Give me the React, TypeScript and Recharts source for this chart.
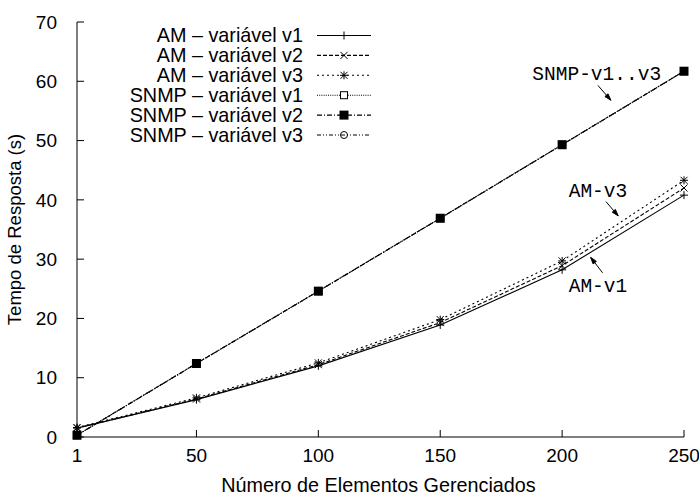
import React from "react";
import {
  LineChart,
  Line,
  XAxis,
  YAxis,
  Legend,
  Label,
  ReferenceLine,
  ReferenceDot,
} from "recharts";

// x: number of managed elements
const elements = [1, 50, 100, 150, 200, 250];
// response time (s)
const amV1 = [1.5, 6.3, 12.0, 18.9, 28.2, 40.8];
const amV2 = [1.5, 6.4, 12.2, 19.3, 28.9, 42.0];
const amV3 = [1.6, 6.6, 12.5, 19.8, 29.7, 43.3];
const snmpV1 = [0.3, 12.4, 24.6, 36.9, 49.3, 61.7];
const snmpV2 = [0.3, 12.4, 24.6, 36.9, 49.3, 61.7];
const snmpV3 = [0.3, 12.4, 24.6, 36.9, 49.3, 61.7];

const xTicks = [1, 50, 100, 150, 200, 250];
const yTicks = [0, 10, 20, 30, 40, 50, 60, 70];

// annotation text anchors and arrows, in data units
const notes = [
  { text: "SNMP-v1..v3", x: 214.2, y: 61.3 },
  { text: "AM-v3", x: 214.7, y: 41.6 },
  { text: "AM-v1", x: 214.7, y: 25.6 },
];
const arrows = [
  { from: [214.7, 59.3], to: [220, 56.8] },
  { from: [218, 39.7], to: [223, 37.3] },
  { from: [216.6, 27.7], to: [211.7, 30.3] },
];

type Mark = "plus" | "cross" | "star" | "box" | "boxFill" | "circle";

const series: { key: string; name: string; values: number[]; dash?: string; mark: Mark }[] = [
  { key: "amV1", name: "AM – variável v1", values: amV1, mark: "plus" },
  { key: "amV2", name: "AM – variável v2", values: amV2, dash: "4 2", mark: "cross" },
  { key: "amV3", name: "AM – variável v3", values: amV3, dash: "2 3", mark: "star" },
  { key: "snmpV1", name: "SNMP – variável v1", values: snmpV1, dash: "1 1.2", mark: "box" },
  { key: "snmpV2", name: "SNMP – variável v2", values: snmpV2, dash: "5 2 1 2", mark: "boxFill" },
  { key: "snmpV3", name: "SNMP – variável v3", values: snmpV3, dash: "4 2 1 2 1 2", mark: "circle" },
];

const data = elements.map((n, i) => {
  const row: Record<string, number> = { n };
  series.forEach((s) => (row[s.key] = s.values[i]));
  return row;
});

const SANS = "'Liberation Sans', Arial, Helvetica, sans-serif";
const MONO = "'Liberation Mono', 'Courier New', monospace";
const FS = 19;
const FS_WIDE = 19.8;
const TICK = 7;

function Marker({ cx, cy, kind }: { cx: number; cy: number; kind: Mark }) {
  const s = 3.5;
  switch (kind) {
    case "plus":
      return (
        <g stroke="#000" strokeWidth={1}>
          <line x1={cx - 4} x2={cx + 4} y1={cy} y2={cy} />
          <line x1={cx} x2={cx} y1={cy - 4} y2={cy + 4} />
        </g>
      );
    case "cross":
      return (
        <g stroke="#000" strokeWidth={1}>
          <line x1={cx - s} x2={cx + s} y1={cy - s} y2={cy + s} />
          <line x1={cx - s} x2={cx + s} y1={cy + s} y2={cy - s} />
        </g>
      );
    case "star":
      return (
        <g stroke="#000" strokeWidth={1}>
          <line x1={cx - s} x2={cx + s} y1={cy - s} y2={cy + s} />
          <line x1={cx - s} x2={cx + s} y1={cy + s} y2={cy - s} />
          <line x1={cx - 4} x2={cx + 4} y1={cy} y2={cy} />
          <line x1={cx} x2={cx} y1={cy - 4} y2={cy + 4} />
        </g>
      );
    case "box":
      return <rect x={cx - s} y={cy - s} width={2 * s} height={2 * s} fill="#fff" stroke="#000" strokeWidth={1} />;
    case "boxFill":
      return <rect x={cx - 4.5} y={cy - 4.5} width={9} height={9} fill="#000" />;
    case "circle":
      return <circle cx={cx} cy={cy} r={s} fill="none" stroke="#000" strokeWidth={1} />;
  }
  return null;
}

const BottomTick = (p: any) => (
  <g>
    <line x1={p.x} x2={p.x} y1={p.y} y2={p.y - TICK} stroke="#000" />
    <text x={p.x} y={p.y + 25} textAnchor="middle" fontFamily={SANS} fontSize={FS} fill="#000">
      {p.payload.value}
    </text>
  </g>
);
const TopTick = (p: any) => <line x1={p.x} x2={p.x} y1={p.y} y2={p.y + TICK} stroke="#000" />;
const LeftTick = (p: any) => (
  <g>
    <line x1={p.x} x2={p.x + TICK} y1={p.y} y2={p.y} stroke="#000" />
    <text x={p.x - 20} y={p.y} dy="0.35em" textAnchor="end" fontFamily={SANS} fontSize={FS} fill="#000">
      {p.payload.value}
    </text>
  </g>
);
const RightTick = (p: any) => <line x1={p.x - TICK} x2={p.x} y1={p.y} y2={p.y} stroke="#000" />;

const LegendBox = () => (
  <svg width={400} height={150}>
    {series.map((s, i) => {
      const y = 35.5 + i * 19.9;
      return (
        <g key={s.key}>
          <text x={303} y={y} dy="0.35em" textAnchor="end" fontFamily={SANS} fontSize={FS_WIDE} fill="#000">
            {s.name}
          </text>
          <line x1={317} x2={371} y1={y} y2={y} stroke="#000" strokeWidth={1.1} strokeDasharray={s.dash} />
          <Marker cx={344} cy={y} kind={s.mark} />
        </g>
      );
    })}
  </svg>
);

const Arrow = (p: any) => {
  const { x1, y1, x2, y2 } = p;
  const a = Math.atan2(y2 - y1, x2 - x1);
  const L = 7;
  const w = 0.3;
  const h1x = x2 - L * Math.cos(a - w);
  const h1y = y2 - L * Math.sin(a - w);
  const h2x = x2 - L * Math.cos(a + w);
  const h2y = y2 - L * Math.sin(a + w);
  return (
    <g stroke="#000" strokeWidth={1}>
      <line x1={x1} y1={y1} x2={x2} y2={y2} />
      <polygon points={`${x2},${y2} ${h1x},${h1y} ${h2x},${h2y}`} fill="#000" />
    </g>
  );
};

export default function App() {
  return (
    <div style={{ position: "absolute", left: 0, top: 0, background: "#fff" }}>
      <LineChart width={699} height={497} data={data} margin={{ top: 22, right: 15, left: 0, bottom: 0 }}>
        <XAxis
          dataKey="n"
          type="number"
          domain={[1, 250]}
          ticks={xTicks}
          interval={0}
          height={60}
          tickSize={0}
          tickMargin={0}
          tickLine={false}
          tick={BottomTick}
          axisLine={{ stroke: "#000" }}
        >
          <Label
            content={(p: any) => (
              <text
                x={p.viewBox.x + p.viewBox.width / 2 - 2}
                y={p.viewBox.y + 55}
                textAnchor="middle"
                fontFamily={SANS}
                fontSize={FS_WIDE}
                fill="#000"
              >
                Número de Elementos Gerenciados
              </text>
            )}
          />
        </XAxis>
        <XAxis
          xAxisId="top"
          orientation="top"
          dataKey="n"
          type="number"
          domain={[1, 250]}
          ticks={xTicks}
          interval={0}
          height={0}
          tickSize={0}
          tickMargin={0}
          tickLine={false}
          tick={TopTick}
          axisLine={{ stroke: "#000" }}
        />
        <YAxis
          type="number"
          domain={[0, 70]}
          ticks={yTicks}
          interval={0}
          width={77}
          tickSize={0}
          tickMargin={0}
          tickLine={false}
          tick={LeftTick}
          axisLine={{ stroke: "#000" }}
        >
          <Label
            content={(p: any) => {
              const cx = 15;
              const cy = p.viewBox.y + p.viewBox.height / 2;
              return (
                <text
                  x={cx}
                  y={cy}
                  dy="0.35em"
                  transform={`rotate(-90 ${cx} ${cy})`}
                  textAnchor="middle"
                  fontFamily={SANS}
                  fontSize={18.5}
                  fill="#000"
                >
                  Tempo de Resposta (s)
                </text>
              );
            }}
          />
        </YAxis>
        <YAxis
          yAxisId="right"
          orientation="right"
          type="number"
          domain={[0, 70]}
          ticks={yTicks}
          interval={0}
          width={0}
          tickSize={0}
          tickMargin={0}
          tickLine={false}
          tick={RightTick}
          axisLine={{ stroke: "#000" }}
        />
        <Legend
          layout="vertical"
          align="center"
          verticalAlign="middle"
          content={LegendBox}
          wrapperStyle={{ position: "absolute", left: 0, top: 0, width: 400, height: 150 }}
        />
        {series.map((s) => (
          <Line
            key={s.key}
            dataKey={s.key}
            name={s.name}
            stroke="#000"
            strokeWidth={1.1}
            strokeDasharray={s.dash}
            isAnimationActive={false}
            dot={(p: any) => <Marker key={`${s.key}-${p.index}`} cx={p.cx} cy={p.cy} kind={s.mark} />}
            activeDot={false}
          />
        ))}
        {arrows.map((a, i) => (
          <ReferenceLine
            key={`arrow-${i}`}
            segment={[
              { x: a.from[0], y: a.from[1] },
              { x: a.to[0], y: a.to[1] },
            ]}
            shape={Arrow}
          />
        ))}
        {notes.map((n) => (
          <ReferenceDot
            key={n.text}
            x={n.x}
            y={n.y}
            r={0}
            shape={(p: any) => (
              <text x={p.cx} y={p.cy} dy="0.35em" textAnchor="middle" fontFamily={MONO} fontSize={19.5} fill="#000">
                {n.text}
              </text>
            )}
          />
        ))}
      </LineChart>
    </div>
  );
}
